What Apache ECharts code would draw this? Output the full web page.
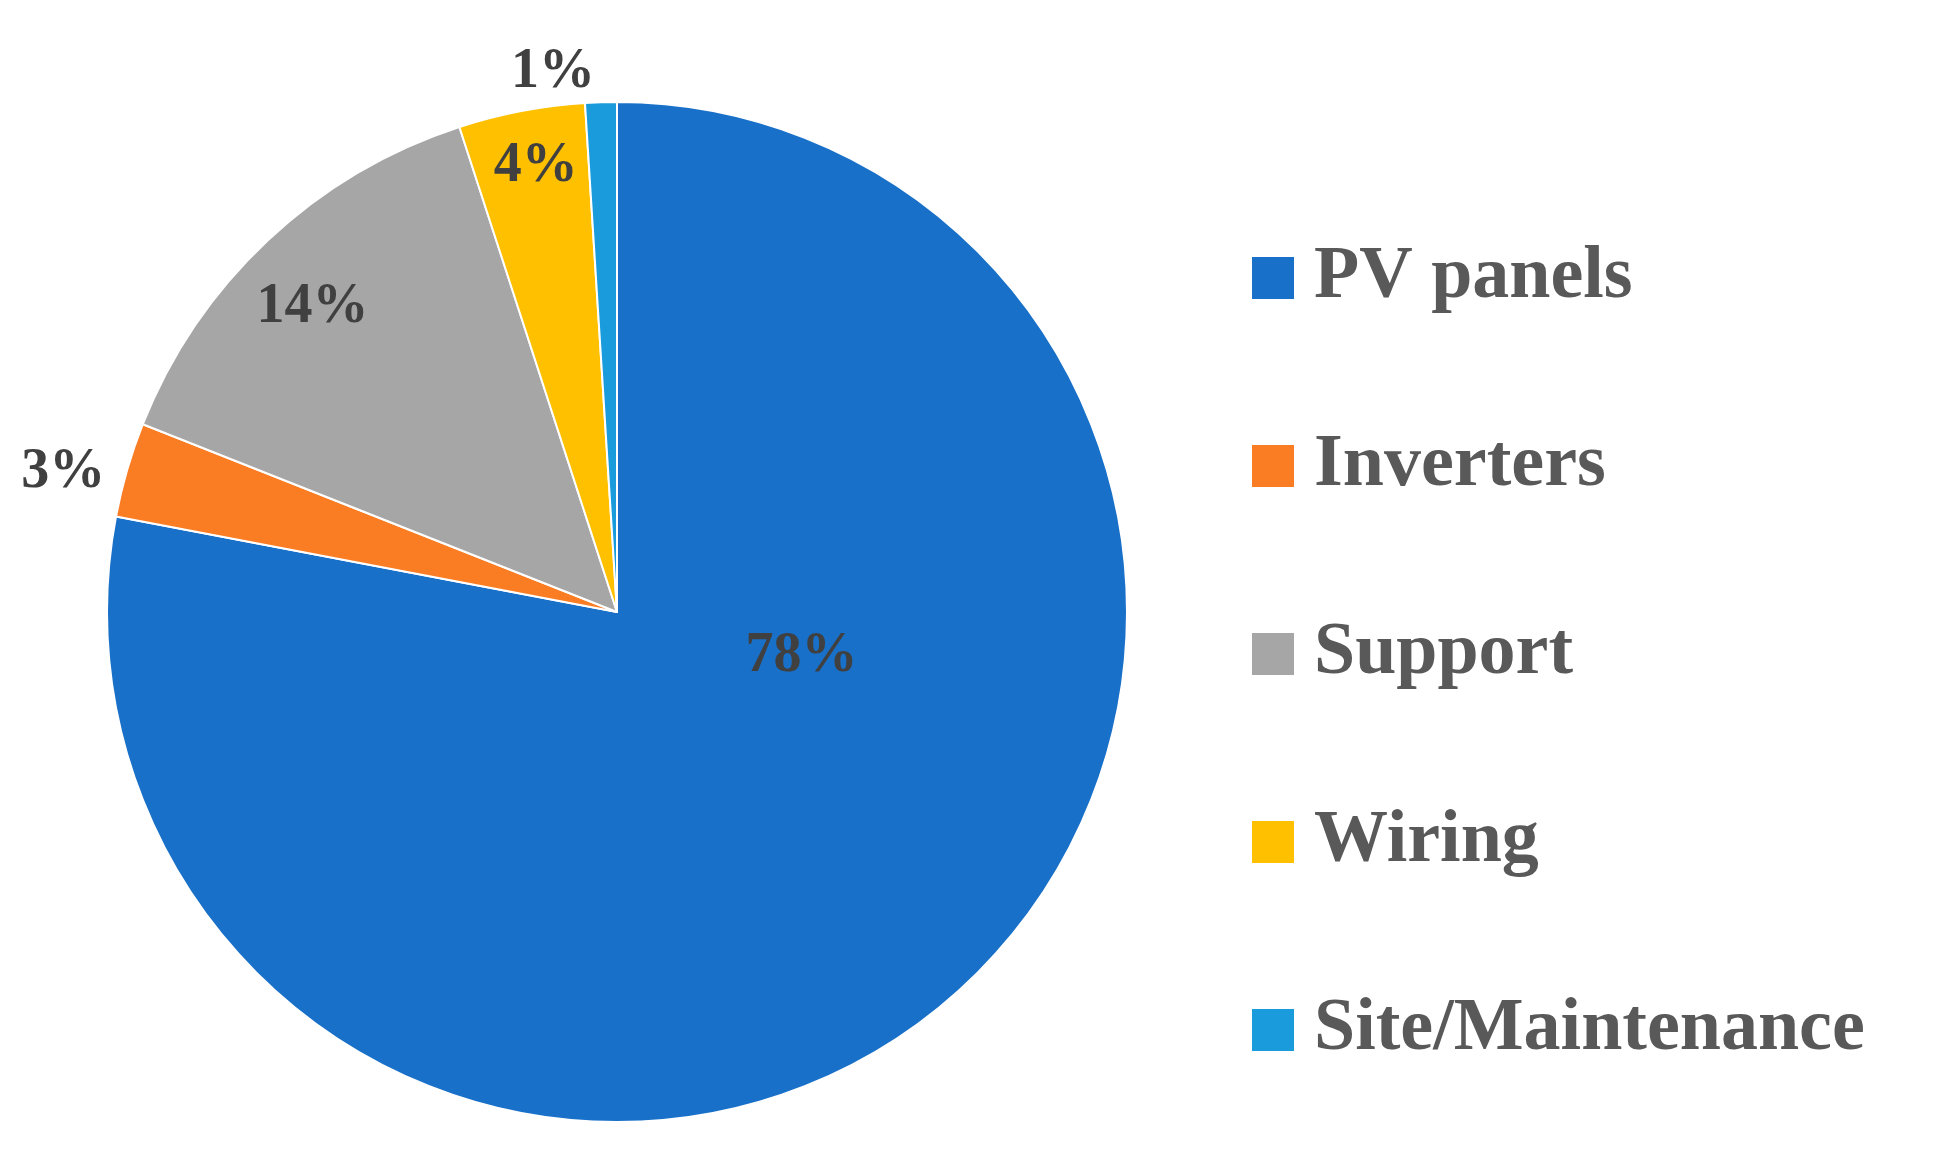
<!DOCTYPE html>
<html>
<head>
<meta charset="utf-8">
<script src="https://cdn.jsdelivr.net/npm/echarts@6/dist/echarts.min.js"></script>
<style>html,body{margin:0;padding:0;background:#fff}#main{width:1938px;height:1155px}</style>
</head>
<body>
<div id="main"></div>
<script>
var categories = ['PV panels', 'Inverters', 'Support', 'Wiring', 'Site/Maintenance'];
var values = [78, 3, 14, 4, 1];
var colors = ['#1870c8', '#fa7d24', '#a6a6a6', '#ffc000', '#1a9bdb'];
// label nudges to mimic Excel's best-fit placement: [shift up, left pad, right pad]
var labelNudge = [
    [154, 40, 0],
    [67, 0, 612],
    [116, 0, 256],
    [192, 0, 66],
    [0, 0, 0]
];

var chart = echarts.init(document.getElementById('main'));
var baseFont = {
    color: '#404040',
    fontFamily: 'Liberation Serif',
    fontWeight: 'bold',
    fontSize: 56
};
var data = [];
for (var i = 0; i < categories.length; i++) {
    var n = labelNudge[i];
    var item = {
        name: categories[i],
        value: values[i],
        itemStyle: { color: colors[i] }
    };
    if (i < 4) {
        item.label = {
            position: 'inside',
            padding: [0, n[2], 0, n[1]],
            formatter: '{v|{c}%}\n{g|}',
            rich: { v: baseFont, g: { height: n[0] * 2 } }
        };
    } else {
        // tiny slice: label goes outside, above the pie
        item.label = { position: 'outside', formatter: '{c}%' };
        item.labelLine = { show: false, length: 30, length2: 0 };
    }
    data.push(item);
}

chart.setOption({
    animation: false,
    legend: {
        orient: 'vertical',
        left: 1245,
        top: 236,
        itemWidth: 44,
        itemHeight: 44,
        itemGap: 114,
        icon: 'rect',
        textStyle: {
            color: '#595959',
            fontFamily: 'Liberation Serif',
            fontWeight: 'bold',
            fontSize: 74,
            padding: [0, 0, 0, 14]
        },
        data: categories
    },
    series: [{
        type: 'pie',
        center: [617, 612],
        radius: [0, 510],
        startAngle: 90,
        clockwise: true,
        avoidLabelOverlap: false,
        itemStyle: { borderColor: '#fff', borderWidth: 2 },
        label: {
            show: true,
            color: '#404040',
            fontFamily: 'Liberation Serif',
            fontWeight: 'bold',
            fontSize: 56
        },
        labelLine: { show: false },
        emphasis: { disabled: true },
        data: data
    }]
});
</script>
</body>
</html>
